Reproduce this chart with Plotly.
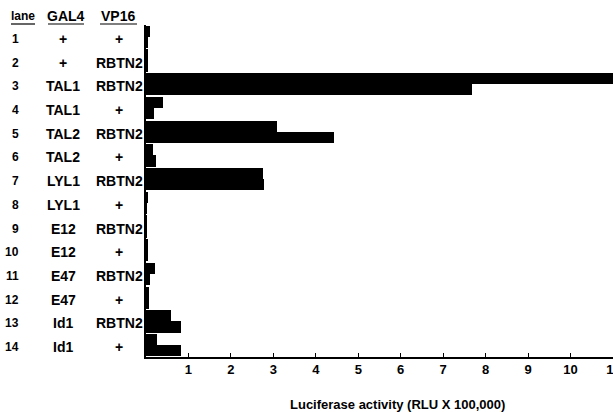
import plotly.graph_objects as go

lanes = list(range(1, 15))
gal4 = ["+", "+", "TAL1", "TAL1", "TAL2", "TAL2", "LYL1", "LYL1", "E12", "E12", "E47", "E47", "Id1", "Id1"]
vp16 = ["+", "RBTN2", "RBTN2", "+", "RBTN2", "+", "RBTN2", "+", "RBTN2", "+", "RBTN2", "+", "RBTN2", "+"]
rep1 = [0.09, 0.04, 11.6, 0.40, 3.08, 0.16, 2.75, 0.03, 0.02, 0.03, 0.21, 0.06, 0.59, 0.25]
rep2 = [0.05, 0.03, 7.68, 0.19, 4.42, 0.24, 2.77, 0.02, 0.02, 0.04, 0.10, 0.08, 0.82, 0.83]
xticks = list(range(1, 12))

W, H = 613, 412
L, R, T, B = 146, 0, 25, 55
PW = W - L - R

def px(xpix):
    return (xpix - L) / PW

def py(ypix):
    return 1 - (ypix - T) / (H - T - B)

FONT = "Liberation Sans, Arial, sans-serif"

fig = go.Figure()
fig.add_trace(go.Bar(y=[l - 0.235 for l in lanes], x=rep1, orientation="h", width=0.47,
                     marker=dict(color="black", line=dict(width=0)), showlegend=False))
fig.add_trace(go.Bar(y=[l + 0.235 for l in lanes], x=rep2, orientation="h", width=0.47,
                     marker=dict(color="black", line=dict(width=0)), showlegend=False))

ann = []
for i, l in enumerate(lanes):
    ann.append(dict(x=px(21), y=l, xref="paper", yref="y", text="<b>%d</b>" % l, showarrow=False,
                    xanchor="right", yanchor="middle", yshift=-2, font=dict(size=12, color="black", family=FONT)))
    ann.append(dict(x=px(63), y=l, xref="paper", yref="y", text="<b>%s</b>" % gal4[i], showarrow=False,
                    xanchor="center", yanchor="middle", yshift=-2, font=dict(size=14, color="black", family=FONT)))
    ann.append(dict(x=px(119), y=l, xref="paper", yref="y", text="<b>%s</b>" % vp16[i], showarrow=False,
                    xanchor="center", yanchor="middle", yshift=-2, font=dict(size=14, color="black", family=FONT)))

headers = [("lane", 23, 12), ("GAL4", 66, 14), ("VP16", 118, 14)]
shapes = []
for txt, cx, fs in headers:
    ann.append(dict(x=px(cx), y=py(16), xref="paper", yref="paper", text="<b>%s</b>" % txt, showarrow=False,
                    xanchor="center", yanchor="middle", font=dict(size=fs, color="black", family=FONT)))

for x0, x1 in [(11, 35), (48, 84), (100, 137)]:
    shapes.append(dict(type="line", xref="paper", yref="paper", x0=px(x0), x1=px(x1),
                       y0=py(24), y1=py(24), line=dict(color="black", width=1.2)))

ann.append(dict(x=px(397), y=py(404), xref="paper", yref="paper",
                text="<b>Luciferase activity (RLU X 100,000)</b>", showarrow=False,
                xanchor="center", yanchor="middle", font=dict(size=13, color="black", family=FONT)))

fig.update_layout(
    width=W, height=H, margin=dict(l=L, r=R, t=T, b=B, pad=0, autoexpand=False),
    paper_bgcolor="white", plot_bgcolor="white",
    barmode="overlay", bargap=0,
    annotations=ann, shapes=shapes,
    xaxis=dict(range=[0, 11], tickvals=xticks, ticktext=["<b>%d</b>" % v for v in xticks],
               ticks="inside", ticklen=4, tickcolor="black", showgrid=False, zeroline=False,
               showline=True, linecolor="black", linewidth=1.5, ticklabeloverflow="allow",
               automargin=False,
               tickfont=dict(size=13, color="black", family=FONT)),
    yaxis=dict(range=[14.5, 0.5], showticklabels=False, ticks="", showgrid=False, zeroline=False,
               showline=True, linecolor="black", linewidth=1.5, automargin=False),
)

fig.write_html("out.html", config={"displayModeBar": False},
               post_script="document.body.style.margin='0px';document.body.style.overflow='hidden';")
